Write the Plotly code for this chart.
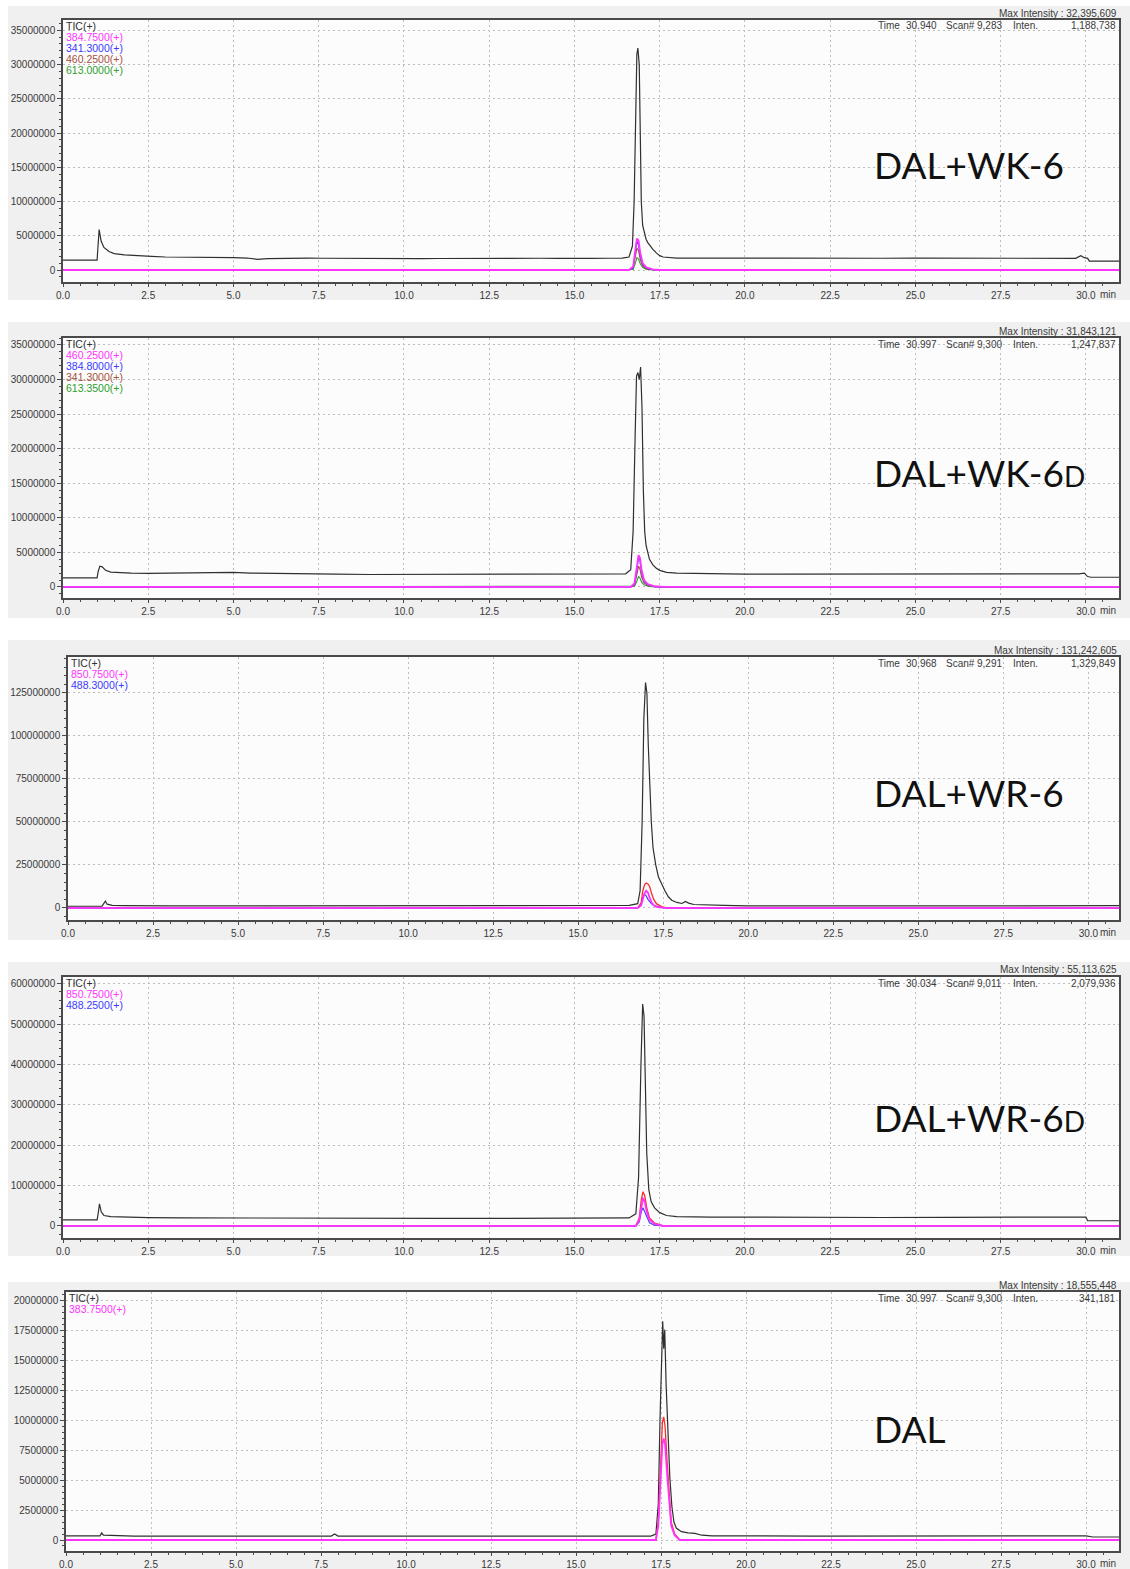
import plotly.graph_objects as go

W, H = 1130, 1569

# ---------------- data (time in min, intensity in millions) ----------------
# Panel 1: DAL+WK-6
p1_tic_t = [0.0, 1.0, 1.02, 1.06, 1.12, 1.2, 1.35, 1.5, 1.8, 2.2, 2.6, 3.0, 3.4, 3.8, 4.2, 4.6, 5.0, 5.4, 5.7, 6.0,
            6.4, 6.8, 7.2, 7.6, 8.0, 8.5, 9.0, 9.5, 10.0, 10.5, 11.0, 11.5, 12.0, 12.5, 13.0, 13.5, 14.0, 14.5,
            15.0, 15.5, 16.0, 16.4, 16.6, 16.7, 16.75, 16.8, 16.83, 16.86, 16.9, 16.93, 16.96, 17.0, 17.05, 17.1,
            17.15, 17.2, 17.3, 17.4, 17.5, 17.6, 17.8, 18.0, 18.5, 19.0, 19.5, 20.0, 21.0, 22.0, 23.0, 24.0, 25.0,
            26.0, 27.0, 28.0, 29.0, 29.7, 29.85, 29.95, 30.05, 30.1, 31.05]
p1_tic_v = [1.45, 1.45, 3.0, 5.9, 4.2, 3.3, 2.7, 2.4, 2.2, 2.05, 2.0, 1.9, 1.9, 1.85, 1.85, 1.85, 1.8, 1.75, 1.55, 1.65,
            1.7, 1.7, 1.75, 1.72, 1.7, 1.7, 1.72, 1.7, 1.7, 1.65, 1.68, 1.7, 1.7, 1.72, 1.7, 1.7, 1.72, 1.7,
            1.75, 1.7, 1.72, 1.75, 1.9, 3.5, 10.0, 25.0, 31.5, 32.4, 30.0, 20.0, 10.0, 6.5, 5.5, 4.5,
            4.0, 3.6, 3.0, 2.5, 2.1, 1.9, 1.8, 1.75, 1.75, 1.78, 1.75, 1.75, 1.75, 1.72, 1.75, 1.72, 1.75,
            1.72, 1.72, 1.7, 1.7, 1.7, 2.1, 1.8, 1.7, 1.3, 1.3]
p1_ion_t = [0.0, 16.6, 16.72, 16.78, 16.83, 16.88, 16.93, 17.0, 17.1, 17.3, 17.5, 31.05]
p1_ion_a = [0, 0, 0.5, 2.5, 4.6, 4.3, 2.5, 1.0, 0.4, 0.1, 0, 0]      # 384.7500
p1_ion_b = [0, 0, 0.3, 2.2, 4.2, 3.6, 2.0, 0.8, 0.3, 0.05, 0, 0]     # 341.3000
p1_ion_c = [0, 0, 0.2, 1.6, 3.2, 2.8, 1.5, 0.6, 0.2, 0.05, 0, 0]     # 460.2500
p1_ion_d = [0, 0, 0.1, 0.9, 1.8, 1.6, 0.9, 0.4, 0.1, 0.0, 0, 0]      # 613.0000

# Panel 2: DAL+WK-6D
p2_tic_t = [0.0, 1.0, 1.03, 1.08, 1.15, 1.25, 1.4, 1.7, 2.0, 2.5, 3.0, 3.5, 4.0, 4.5, 5.0, 5.5, 6.0, 6.5, 7.0, 7.5,
            8.0, 9.0, 10.0, 11.0, 12.0, 13.0, 14.0, 15.0, 16.0, 16.5, 16.65, 16.72, 16.78, 16.82, 16.86, 16.9,
            16.94, 16.98, 17.02, 17.06, 17.1, 17.15, 17.2, 17.3, 17.4, 17.5, 17.7, 18.0, 19.0, 20.0, 21.0, 22.0,
            23.0, 24.0, 25.0, 26.0, 27.0, 28.0, 29.0, 29.8, 29.95, 30.05, 30.15, 31.05]
p2_tic_v = [1.3, 1.3, 2.2, 3.0, 2.9, 2.4, 2.15, 2.05, 2.0, 1.95, 2.0, 2.05, 2.1, 2.15, 2.1, 2.0, 1.95, 1.9, 1.85, 1.85,
            1.85, 1.8, 1.8, 1.8, 1.8, 1.8, 1.8, 1.82, 1.85, 1.9, 2.5, 8.0, 22.0, 30.5, 31.0, 30.0,
            31.8, 26.0, 14.0, 8.0, 6.0, 4.8, 4.0, 3.2, 2.7, 2.4, 2.1, 2.0, 1.9, 1.85, 1.85, 1.85,
            1.85, 1.85, 1.85, 1.85, 1.85, 1.85, 1.85, 1.9, 2.0, 1.5, 1.4, 1.4]
p2_ion_t = [0.0, 16.65, 16.76, 16.82, 16.88, 16.92, 16.97, 17.04, 17.15, 17.35, 17.6, 31.05]
p2_ion_a = [0, 0, 0.5, 2.4, 4.6, 4.2, 2.4, 1.0, 0.4, 0.1, 0, 0]      # 460.2500
p2_ion_b = [0, 0, 0.3, 2.0, 4.4, 3.8, 2.0, 0.8, 0.3, 0.05, 0, 0]     # 384.8000
p2_ion_c = [0, 0, 0.2, 1.4, 3.0, 2.6, 1.4, 0.6, 0.2, 0.05, 0, 0]     # 341.3000
p2_ion_d = [0, 0, 0.1, 0.7, 1.5, 1.3, 0.7, 0.3, 0.1, 0.0, 0, 0]      # 613.3500

# Panel 3: DAL+WR-6
p3_tic_t = [0.0, 1.0, 1.05, 1.1, 1.15, 1.3, 1.6, 2.0, 3.0, 5.0, 7.0, 10.0, 13.0, 15.0, 16.0, 16.5, 16.75, 16.82,
            16.88, 16.93, 16.98, 17.02, 17.06, 17.1, 17.15, 17.2, 17.28, 17.36, 17.45, 17.55, 17.65, 17.75,
            17.9, 18.05, 18.15, 18.25, 18.4, 18.6, 18.8, 19.0, 19.3, 19.6, 20.0, 22.0, 24.0, 26.0, 26.6,
            26.8, 28.0, 29.9, 30.0, 31.05]
p3_tic_v = [1.0, 1.0, 2.5, 4.0, 2.2, 1.5, 1.4, 1.3, 1.2, 1.2, 1.2, 1.2, 1.2, 1.2, 1.2, 1.5, 2.5, 10.0,
            50.0, 110.0, 131.0, 125.0, 95.0, 70.0, 50.0, 35.0, 25.0, 18.0, 14.0, 10.0, 6.5, 4.5,
            3.2, 2.6, 3.8, 2.8, 2.0, 1.8, 1.9, 1.6, 1.5, 1.3, 1.2, 1.2, 1.2, 1.2, 1.3,
            1.6, 1.6, 1.6, 1.3, 1.3]
p3_ion_t = [0.0, 16.75, 16.85, 16.9, 16.95, 17.0, 17.05, 17.1, 17.15, 17.22, 17.3, 17.45, 17.6, 31.05]
p3_ion_r = [0, 0, 3.0, 10.0, 13.5, 14.5, 14.0, 12.5, 9.0, 5.0, 2.5, 0.8, 0, 0]     # (red)
p3_ion_a = [0, 0, 1.5, 5.0, 8.5, 10.0, 9.0, 6.0, 3.5, 1.5, 0.6, 0.2, 0, 0]       # 850.7500
p3_ion_b = [0, 0, 2.0, 6.0, 8.0, 7.0, 5.0, 3.5, 2.5, 1.6, 1.0, 0.3, 0, 0]        # 488.3000

# Panel 4: DAL+WR-6D
p4_tic_t = [0.0, 1.0, 1.03, 1.07, 1.12, 1.2, 1.4, 1.8, 2.5, 3.5, 5.0, 7.0, 9.0, 11.0, 13.0, 15.0, 16.0, 16.6,
            16.8, 16.88, 16.95, 17.0, 17.04, 17.08, 17.12, 17.18, 17.25, 17.35, 17.5, 17.7, 18.0, 19.0, 20.0,
            22.0, 24.0, 26.0, 28.0, 29.0, 30.0, 30.05, 31.05]
p4_tic_v = [1.5, 1.5, 3.0, 5.5, 3.5, 2.6, 2.3, 2.15, 2.05, 2.0, 1.95, 1.9, 1.9, 1.9, 1.9, 1.95, 1.95, 2.0,
            3.0, 12.0, 40.0, 55.0, 52.0, 35.0, 18.0, 9.0, 6.0, 4.5, 3.3, 2.6, 2.3, 2.2, 2.15,
            2.1, 2.1, 2.15, 2.2, 2.25, 2.2, 1.3, 1.3]
p4_ion_t = [0.0, 16.8, 16.9, 16.96, 17.01, 17.06, 17.12, 17.2, 17.35, 17.6, 31.05]
p4_ion_r = [0, 0, 2.0, 6.5, 8.5, 7.5, 4.5, 2.0, 0.7, 0, 0]      # (red)
p4_ion_a = [0, 0, 1.5, 5.0, 7.0, 6.0, 3.5, 1.5, 0.5, 0, 0]      # 850.7500
p4_ion_b = [0, 0, 1.0, 3.5, 4.5, 3.5, 2.0, 0.8, 0.2, 0, 0]      # 488.2500

# Panel 5: DAL
p5_tic_t = [0.0, 1.0, 1.05, 1.1, 2.0, 5.0, 7.8, 7.9, 8.0, 10.0, 15.0, 17.2, 17.35, 17.42, 17.47, 17.52, 17.55,
            17.58, 17.61, 17.65, 17.7, 17.76, 17.82, 17.88, 17.95, 18.1, 18.3, 18.5, 18.7, 19.0, 22.0, 25.0,
            28.0, 29.6, 30.0, 30.2, 31.05]
p5_tic_v = [0.35, 0.35, 0.6, 0.4, 0.33, 0.33, 0.33, 0.5, 0.33, 0.33, 0.33, 0.33, 0.5, 3.0, 10.0, 17.0, 18.3,
            16.0, 17.6, 13.0, 9.0, 5.2, 2.8, 1.5, 1.0, 0.7, 0.6, 0.55, 0.4, 0.35, 0.33, 0.33,
            0.33, 0.3, 0.35, 0.25, 0.25]
p5_ion_t = [0.0, 17.35, 17.42, 17.48, 17.54, 17.58, 17.62, 17.68, 17.74, 17.8, 17.9, 18.05, 31.05]
p5_ion_r = [0, 0, 1.5, 6.0, 9.8, 10.3, 9.5, 6.5, 3.5, 1.5, 0.5, 0, 0]    # (red)
p5_ion_a = [0, 0, 1.2, 5.0, 8.0, 8.5, 8.0, 5.5, 3.0, 1.2, 0.4, 0, 0]     # 383.7500

# ---------------- panel metadata ----------------
labels = ["DAL+WK-6", "DAL+WK-6<span style='font-size:28px'>D</span>", "DAL+WR-6",
          "DAL+WR-6<span style='font-size:28px'>D</span>", "DAL"]
max_int = ["32,395,609", "31,843,121", "131,242,605", "55,113,625", "18,555,448"]
time_v = ["30.940", "30.997", "30.968", "30.034", "30.997"]
scan_v = ["9,283", "9,300", "9,291", "9,011", "9,300"]
inten_v = ["1,188,738", "1,247,837", "1,329,849", "2,079,936", "341,181"]
legend_txt = [["TIC(+)", "384.7500(+)", "341.3000(+)", "460.2500(+)", "613.0000(+)"],
              ["TIC(+)", "460.2500(+)", "384.8000(+)", "341.3000(+)", "613.3500(+)"],
              ["TIC(+)", "850.7500(+)", "488.3000(+)"],
              ["TIC(+)", "850.7500(+)", "488.2500(+)"],
              ["TIC(+)", "383.7500(+)"]]

MAG, BLU, BRN, GRN, RED, BLK = "#ff33ff", "#3b3bff", "#a8503c", "#2ea02e", "#ff2a2a", "#303030"
legend_col = [[BLK, MAG, BLU, BRN, GRN], [BLK, MAG, BLU, BRN, GRN], [BLK, MAG, BLU], [BLK, MAG, BLU], [BLK, MAG]]

# pixel geometry: (left, top, right, bottom) of plot area, and gray band (top, bottom)
boxes = [(63, 20, 1119, 282), (63, 338, 1119, 598), (68, 657, 1119, 920), (63, 977, 1119, 1238), (66, 1292, 1119, 1551)]
bands = [(6, 300), (322, 618), (640, 940), (962, 1256), (1282, 1569)]
yr = [(-1.75, 36.5), (-1.6, 36.0), (-7.0, 145.9), (-2.98, 61.7), (-0.92, 20.75)]
ydt = [5, 5, 25, 10, 2.5]
xmax = [30.97, 30.97, 30.9, 30.97, 30.97]

traces = [
    [(p1_tic_t, p1_tic_v, BLK, 1.2), (p1_ion_t, p1_ion_d, GRN, 1.1), (p1_ion_t, p1_ion_c, BRN, 1.1),
     (p1_ion_t, p1_ion_b, BLU, 1.1), (p1_ion_t, p1_ion_a, MAG, 1.8)],
    [(p2_tic_t, p2_tic_v, BLK, 1.2), (p2_ion_t, p2_ion_d, GRN, 1.1), (p2_ion_t, p2_ion_c, BRN, 1.1),
     (p2_ion_t, p2_ion_b, BLU, 1.1), (p2_ion_t, p2_ion_a, MAG, 1.8)],
    [(p3_tic_t, p3_tic_v, BLK, 1.2), (p3_ion_t, p3_ion_r, RED, 1.3), (p3_ion_t, p3_ion_b, BLU, 1.1),
     (p3_ion_t, p3_ion_a, MAG, 1.8)],
    [(p4_tic_t, p4_tic_v, BLK, 1.2), (p4_ion_t, p4_ion_r, RED, 1.3), (p4_ion_t, p4_ion_b, BLU, 1.1),
     (p4_ion_t, p4_ion_a, MAG, 1.8)],
    [(p5_tic_t, p5_tic_v, BLK, 1.2), (p5_ion_t, p5_ion_r, RED, 1.3), (p5_ion_t, p5_ion_a, MAG, 1.8)],
]

def px(x):
    return x / W

def py(y):
    return 1 - y / H

fig = go.Figure()
shapes, annots = [], []
TF = dict(family="Liberation Sans, Arial", size=10, color="#3a3a3a")
HF = dict(family="Liberation Sans Narrow, Liberation Sans", size=10, color="#3a3a3a")

def note(x, y, text, font, xanchor="left"):
    annots.append(dict(x=px(x), y=py(y), xref="paper", yref="paper", xanchor=xanchor, yanchor="middle",
                       text=text, showarrow=False, font=font))

for i in range(5):
    n = "" if i == 0 else str(i + 1)
    L, T, R, B = boxes[i]
    for (t, v, c, w) in traces[i]:
        fig.add_trace(go.Scatter(x=t, y=[a * 1e6 for a in v], mode="lines", line=dict(color=c, width=w),
                                 xaxis="x" + n, yaxis="y" + n, showlegend=False, hoverinfo="skip"))
    common = dict(showline=True, linecolor="#4a4a4a", linewidth=1.5, mirror=True, ticks="outside",
                  tickcolor="#4a4a4a", tickfont=TF, showgrid=True, gridcolor="#bdbdbd",
                  griddash="2px,3px", gridwidth=1, zeroline=False, automargin=False)
    fig.update_layout(**{
        "xaxis" + n: dict(domain=[px(L), px(R)], anchor="y" + n, range=[0, xmax[i]], tick0=0, dtick=2.5,
                          tickformat=".1f", ticklen=3,
                          minor=dict(dtick=0.5, ticklen=2.5, tickcolor="#4a4a4a", ticks="outside"),
                          **common),
        "yaxis" + n: dict(domain=[py(B), py(T)], anchor="x" + n, range=[yr[i][0] * 1e6, yr[i][1] * 1e6],
                          tick0=0, dtick=ydt[i] * 1e6, tickformat="d", ticklen=4,
                          minor=dict(dtick=ydt[i] * 1e6 / 5, ticklen=2.5, tickcolor="#4a4a4a", ticks="outside"),
                          **common),
    })
    bt, bb = bands[i]
    shapes.append(dict(type="rect", xref="paper", yref="paper", x0=px(8), x1=px(1130), y0=py(bb), y1=py(bt),
                       fillcolor="#f0f0f0", line=dict(width=0), layer="below"))
    shapes.append(dict(type="rect", xref="paper", yref="paper", x0=px(L), x1=px(R), y0=py(B), y1=py(T),
                       fillcolor="#fcfcfc", line=dict(width=0), layer="below"))
    # header texts
    note(1119, T - 7, "Max Intensity : " + max_int[i], HF, "right")
    note(876, T + 6, "Time", HF)
    note(904, T + 6, time_v[i], HF)
    note(944, T + 6, "Scan#", HF)
    note(975, T + 6, scan_v[i], HF)
    note(1011, T + 6, "Inten.", HF)
    note(1118, T + 6, inten_v[i], HF, "right")
    # legend texts
    for k, (tx, col) in enumerate(zip(legend_txt[i], legend_col[i])):
        note(L + 1, T + 6 + k * 11, tx, dict(family="Liberation Sans", size=10.5, color=col))
    # "min" label
    note(R - 1, B + 12, "min", TF, "right")

label_y = [165, 472, 793, 1117, 1428]
for i in range(5):
    note(872, label_y[i], labels[i], dict(family="Lato", size=37, color="#111111"))

fig.update_layout(width=W, height=H, margin=dict(l=0, r=0, t=0, b=0), paper_bgcolor="white",
                  plot_bgcolor="#fcfcfc", shapes=shapes, annotations=annots, showlegend=False)

fig.write_html("out.html", config={"displayModeBar": False},
               post_script="document.body.style.margin='0';document.body.style.overflow='hidden';")
